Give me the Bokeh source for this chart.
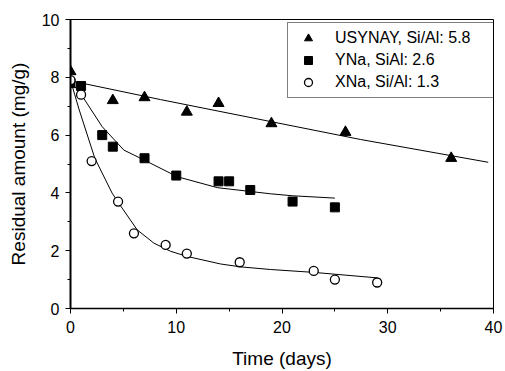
from bokeh.plotting import figure
from bokeh.models import Legend, LegendItem, SingleIntervalTicker, Range1d
from bokeh.embed import file_html
from bokeh.resources import INLINE

# Measured points
usy_t = [0, 4, 7, 11, 14, 19, 26, 36]
usy_v = [8.2, 7.2, 7.3, 6.8, 7.1, 6.4, 6.1, 5.2]

yna_t = [0, 1, 3, 4, 7, 10, 14, 15, 17, 21, 25]
yna_v = [7.8, 7.7, 6.0, 5.6, 5.2, 4.6, 4.4, 4.4, 4.1, 3.7, 3.5]

xna_t = [0, 1, 2, 4.5, 6, 9, 11, 16, 23, 25, 29]
xna_v = [7.9, 7.4, 5.1, 3.7, 2.6, 2.2, 1.9, 1.6, 1.3, 1.0, 0.9]

# Fitted curves
usy_fit_t = [0, 8.5, 27.4, 39.5]
usy_fit_v = [7.88, 7.23, 5.85, 5.06]

yna_fit_t = [0, 0.95, 3, 5.05, 6.62, 10.1, 13.9, 17.0, 18.9, 21, 25]
yna_fit_v = [7.85, 7.44, 6.29, 5.48, 5.2, 4.56, 4.18, 4.05, 3.97, 3.9, 3.82]

xna_fit_t = [0, 0.8, 2.3, 3.94, 4.57, 6.31, 7.89, 9.46, 11.04, 14.2, 16.1, 18.9, 23, 29]
xna_fit_v = [7.9, 6.9, 5.2, 3.99, 3.64, 2.72, 2.26, 1.98, 1.80, 1.54, 1.44, 1.35, 1.25, 1.06]

labels = ["USYNAY, Si/Al: 5.8", "YNa, SiAl: 2.6", "XNa, Si/Al: 1.3"]

FONT = "Liberation Sans"

p = figure(width=505, height=371, output_backend="svg", toolbar_location=None,
           x_range=Range1d(0, 40), y_range=Range1d(0, 10),
           min_border_left=70, min_border_right=12, min_border_top=19, min_border_bottom=62)
p.background_fill_color = "white"
p.border_fill_color = "white"
p.grid.visible = False
p.outline_line_color = "black"
p.outline_line_width = 1

p.xaxis.ticker = SingleIntervalTicker(interval=10, num_minor_ticks=2)
p.yaxis.ticker = SingleIntervalTicker(interval=2, num_minor_ticks=2)
for ax in (p.xaxis[0], p.yaxis[0]):
    ax.axis_line_color = "black"
    ax.major_tick_line_color = "black"
    ax.minor_tick_line_color = "black"
    ax.major_tick_in = 0
    ax.minor_tick_in = 0
    ax.major_tick_out = 5
    ax.minor_tick_out = 3
    ax.major_label_text_font = FONT
    ax.major_label_text_font_size = "16px"
    ax.major_label_text_color = "black"
    ax.axis_label_text_font = FONT
    ax.axis_label_text_font_size = "19px"
    ax.axis_label_text_font_style = "normal"
    ax.axis_label_text_color = "black"
p.yaxis.axis_line_width = 2
p.xaxis.axis_line_width = 1.5
p.yaxis.major_label_standoff = 6
p.xaxis.major_label_standoff = 7
p.xaxis.axis_label = "Time (days)"
p.xaxis.axis_label_standoff = 12
p.yaxis.axis_label = "Residual amount (mg/g)"
p.yaxis.axis_label_standoff = 10

p.line(usy_fit_t, usy_fit_v, line_color="black", line_width=1)
p.line(yna_fit_t, yna_fit_v, line_color="black", line_width=1)
p.line(xna_fit_t, xna_fit_v, line_color="black", line_width=1)

r1 = p.scatter(usy_t, usy_v, marker="triangle", size=11, fill_color="black", line_color="black")
r2 = p.scatter(yna_t, yna_v, marker="square", size=9, fill_color="black", line_color="black")
r3 = p.scatter(xna_t, xna_v, marker="circle", size=9, fill_color="white", line_color="black", line_width=1.3)

legend = Legend(items=[LegendItem(label=labels[0], renderers=[r1]),
                       LegendItem(label=labels[1], renderers=[r2]),
                       LegendItem(label=labels[2], renderers=[r3])],
                location=(217, 210), orientation="vertical",
                label_text_font=FONT, label_text_font_size="16px", label_text_color="black",
                glyph_width=30, glyph_height=20, label_height=20, label_width=153,
                label_standoff=12, spacing=2, padding=5, margin=0,
                border_line_color="black", border_line_width=1.2,
                background_fill_color="white", background_fill_alpha=1)
p.add_layout(legend)

open("out.html", "w").write(file_html(p, INLINE))
